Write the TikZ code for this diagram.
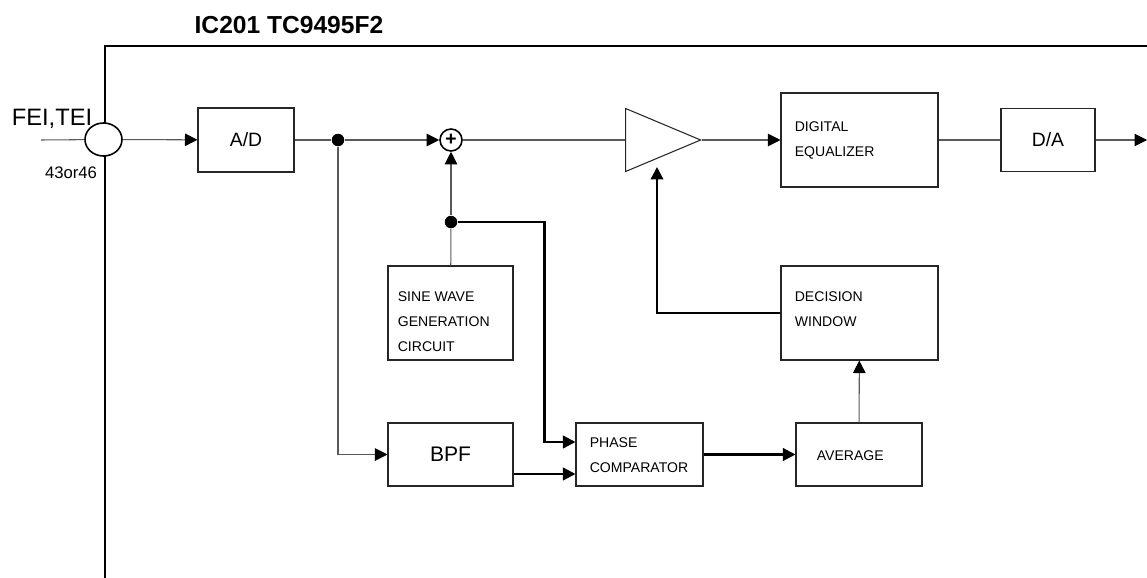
\documentclass[tikz,border=0pt]{standalone}
\usepackage{fontspec}
\setmainfont{Liberation Sans}
\usetikzlibrary{arrows.meta,positioning,shapes.geometric}

\begin{document}
\begin{tikzpicture}[x=0.02cm,y=-0.02cm]
  \tikzset{
    blk/.style={draw=black!85,line width=0.6pt,inner sep=0pt,fill=white},
    lbl/.style={font=\fontsize{8}{14.2}\selectfont,align=left,anchor=north west,inner sep=0pt},
    wire/.style={draw=black!65,line width=0.6pt},
    heavy/.style={draw=black,line width=1.3pt},
    sig/.style={-{Triangle[length=0.25cm,width=0.25cm,color=black]}},
    junc/.style={circle,fill,inner sep=0pt,minimum size=0.25cm}
  }
  \useasboundingbox (0,0) rectangle (1147,578);
  % chip outline
  \draw[line width=1.7pt] (105,578) |- (1147,46);
  \node[font=\bfseries\fontsize{14}{16}\selectfont] (chip) at (289,25) {IC201 TC9495F2};
  % input pin
  \node[blk,draw=black,line width=0.9pt,ellipse,minimum width=0.74cm,minimum height=0.66cm] (pin) at (103.5,139.5) {};
  \node[font=\fontsize{13.5}{15}\selectfont] (pinname) at (52,119) {FEI,TEI};
  \node[font=\fontsize{9.5}{11}\selectfont] (pinno) at (71,173) {43or46};
  \coordinate (in) at (41,140);
  \coordinate (out) at (1147,140);
  \coordinate (fb) at (657,167);
  % blocks
  \node[blk,minimum width=1.92cm,minimum height=1.28cm,font=\fontsize{11}{13}\selectfont] (ad) at (246,140) {A/D};
  \node[blk,minimum width=1.88cm,minimum height=1.26cm,font=\fontsize{11}{13}\selectfont] (da) at (1048,140) {D/A};
  \node[blk,minimum width=3.14cm,minimum height=1.88cm] (eq) at (859.5,140) {};
  \node[blk,minimum width=3.14cm,minimum height=1.88cm] (dec) at (859.5,313) {};
  \node[blk,minimum width=2.5cm,minimum height=1.88cm] (sine) at (450.5,313) {};
  \node[blk,minimum width=2.5cm,minimum height=1.26cm,font=\fontsize{12}{14}\selectfont] (bpf) at (450.5,454.5) {BPF};
  \node[blk,minimum width=2.54cm,minimum height=1.26cm] (pc) at (639.5,454.5) {};
  \node[blk,minimum width=2.52cm,minimum height=1.26cm] (avg) at (859,454.5) {};
  \node[blk,draw=black,circle,minimum size=0.44cm,line width=0.9pt,font=\bfseries\fontsize{11}{11}\selectfont] (sum) at (451,140) {+};
  \node[blk,isosceles triangle,isosceles triangle stretches,minimum width=1.26cm,minimum height=1.5cm,anchor=apex] (amp) at (702,140) {};
  % block texts
  \node[lbl] (eqtxt) at ([shift={(14,29)}]eq.north west) {DIGITAL\\EQUALIZER};
  \node[lbl] (dectxt) at ([shift={(14,26)}]dec.north west) {DECISION\\WINDOW};
  \node[lbl] (sinetxt) at ([shift={(10,26)}]sine.north west) {SINE WAVE\\GENERATION\\CIRCUIT};
  \node[lbl] (pctxt) at ([shift={(14,15)}]pc.north west) {PHASE\\COMPARATOR};
  \node[lbl] (avgtxt) at ([shift={(21,28)}]avg.north west) {AVERAGE};
  % junctions
  \node[junc] (j1) at (338,140) {};
  \node[junc] (j2) at (451,222) {};
  % connectors
  \draw[wire] (in) -- (pin);
  \draw[wire,sig] (pin) -- (ad);
  \draw[wire] (ad) -- (j1);
  \draw[wire,sig] (j1) -- (sum);
  \draw[wire,sig] (j1) |- (bpf);
  \draw[wire] (sine) -- (j2);
  \draw[wire,sig] (j2) -- (sum);
  \draw[heavy,sig] (j2) -| ([xshift=-0.62cm,yshift=0.25cm]pc.west) -- ([yshift=0.25cm]pc.west);
  \draw[heavy,sig] ([yshift=-0.39cm]bpf.east) -- ([yshift=-0.39cm]pc.west);
  \draw[heavy,sig] (pc) -- (avg);
  \draw[wire,sig] (avg) -- (dec);
  \draw[heavy,sig] (dec.west) -| (fb);
  \draw[wire] (sum) -- (amp.west);
  \draw[wire,sig] (amp.apex) -- (eq);
  \draw[wire] (eq) -- (da);
  \draw[wire,sig] (da) -- (out);
\end{tikzpicture}
\end{document}
